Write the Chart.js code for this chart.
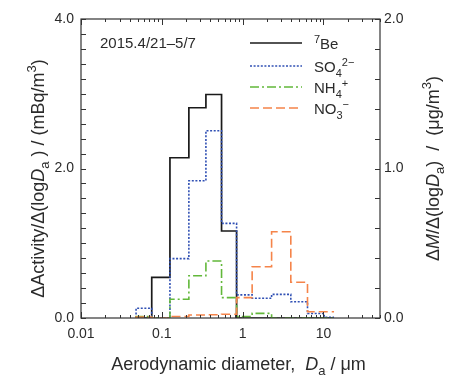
<!DOCTYPE html>
<html>
<head>
<meta charset="utf-8">
<script src="https://cdn.jsdelivr.net/npm/chart.js@4.4.1/dist/chart.umd.min.js"></script>
<style>
  html, body { margin: 0; padding: 0; background: #fff; }
  canvas { display: block; }
</style>
</head>
<body>
<canvas id="c" width="449" height="376"></canvas>
<script>
// Impactor stage boundaries (aerodynamic diameter, µm)
const binEdges = [0.048, 0.075, 0.126, 0.216, 0.351, 0.548, 0.841, 1.31, 2.28, 3.94, 6.34, 10.2, 13.5];
// Size distributions per stage: dX / d(log Da)
const be7 = [0, 0.544, 2.144, 2.813, 2.99, 1.164, 0, 0, 0, 0, 0, 0];                        // mBq/m3
const so4 = [0.065, 0, 0.397, 0.918, 1.253, 0.633, 0.155, 0.132, 0.158, 0.109, 0.03, 0.005]; // µg/m3
const nh4 = [0.009, 0, 0.125, 0.283, 0.381, 0.136, 0.009, 0.031, 0, 0, 0, 0];                // µg/m3
const no3 = [0.007, 0, 0.01, 0.02, 0.022, 0.025, 0.136, 0.343, 0.577, 0.239, 0.042, 0.042];  // µg/m3
// Tick labels
const xTickValues = [0.01, 0.1, 1, 10];
const yLeftTicks = [0, 2, 4];
const yRightTicks = [0, 1, 2];
const periodLabel = '2015.4/21\u20135/7';

const FONT = '"Liberation Sans", Arial, Helvetica, sans-serif';
const TXT = '#2b2b2b';

// Turn stage values into a step outline starting from the baseline
function steps(vals) {
  const pts = [{ x: binEdges[0], y: 0 }];
  vals.forEach((v, i) => pts.push({ x: binEdges[i], y: v }));
  pts.push({ x: binEdges[vals.length], y: vals[vals.length - 1] });
  return pts;
}

// Mixed-style text: segments with italic / subscript / superscript
function segFont(s, size) {
  const sz = (s.sub || s.sup) ? Math.round(size * 0.7) : size;
  return (s.i ? 'italic ' : '') + sz + 'px ' + FONT;
}
function richWidth(ctx, segs, size) {
  let w = 0;
  segs.forEach(s => { ctx.font = segFont(s, size); w += ctx.measureText(s.t).width; });
  return w;
}
function drawRich(ctx, segs, x, y, size, align) {
  let cx = align === 'center' ? x - richWidth(ctx, segs, size) / 2 : x;
  ctx.textBaseline = 'alphabetic';
  ctx.textAlign = 'left';
  segs.forEach(s => {
    ctx.font = segFont(s, size);
    let dy = 0;
    if (s.sub) dy = size * 0.3;
    if (s.sup) dy = -size * 0.42;
    ctx.fillText(s.t, cx, y + dy);
    cx += ctx.measureText(s.t).width;
  });
}

const seriesStyle = [
  { key: 'be7', color: '#1a1a1a', dash: [], width: 1.7, label: [{ t: '7', sup: true }, { t: 'Be' }] },
  { key: 'so4', color: '#3050b4', dash: [2, 1.6], width: 1.6, label: [{ t: 'SO' }, { t: '4', sub: true }, { t: '2\u2212', sup: true }] },
  { key: 'nh4', color: '#62b83a', dash: [9, 3, 2, 3], width: 1.6, label: [{ t: 'NH' }, { t: '4', sub: true }, { t: '+', sup: true }] },
  { key: 'no3', color: '#f5844a', dash: [9, 4], width: 1.6, label: [{ t: 'NO' }, { t: '3', sub: true }, { t: '\u2212', sup: true }] }
];

const overlay = {
  id: 'overlay',
  afterDraw(chart) {
    const ctx = chart.ctx;
    const a = chart.chartArea;
    const sx = chart.scales.x, sy = chart.scales.y, sy2 = chart.scales.y2;
    ctx.save();
    ctx.strokeStyle = '#333';
    ctx.lineWidth = 1.2;
    ctx.setLineDash([]);
    ctx.strokeRect(a.left, a.top, a.right - a.left, a.bottom - a.top);

    // inward tick marks
    ctx.lineWidth = 1;
    ctx.beginPath();
    for (let d = 0.01; d < 100; d *= 10) {
      for (let m = 1; m <= 9; m++) {
        const v = m * d;
        if (v < sx.min * 0.999 || v > sx.max * 1.001) continue;
        const px = Math.round(sx.getPixelForValue(v)) + 0.5;
        const len = m === 1 ? 6 : 3;
        ctx.moveTo(px, a.bottom); ctx.lineTo(px, a.bottom - len);
        ctx.moveTo(px, a.top); ctx.lineTo(px, a.top + len);
      }
    }
    for (let k = 0; k <= 20; k++) {
      const py = Math.round(sy.getPixelForValue(k * 0.2)) + 0.5;
      ctx.moveTo(a.left, py); ctx.lineTo(a.left + 5, py);
    }
    for (let k = 0; k <= 10; k++) {
      const py = Math.round(sy2.getPixelForValue(k * 0.2)) + 0.5;
      ctx.moveTo(a.right, py); ctx.lineTo(a.right - 5, py);
    }
    ctx.stroke();

    ctx.fillStyle = TXT;
    // period label
    ctx.font = '15px ' + FONT;
    ctx.textAlign = 'left';
    ctx.textBaseline = 'middle';
    ctx.fillText(periodLabel, 100, 44);

    // legend
    const rows = [43, 66, 87, 108];
    seriesStyle.forEach((s, i) => {
      ctx.strokeStyle = s.color;
      ctx.lineWidth = s.width;
      ctx.setLineDash(s.dash);
      ctx.beginPath();
      ctx.moveTo(250, rows[i]); ctx.lineTo(302, rows[i]);
      ctx.stroke();
      ctx.setLineDash([]);
      ctx.fillStyle = TXT;
      drawRich(ctx, s.label, 314, rows[i] + 6, 15, 'left');
    });

    // axis titles
    const tsize = 18;
    ctx.fillStyle = TXT;
    drawRich(ctx, [
      { t: 'Aerodynamic diameter,  ' }, { t: 'D', i: true }, { t: 'a', sub: true }, { t: ' / \u03bcm' }
    ], (a.left + a.right) / 2 + 8, 370, tsize, 'center');

    const cy = (a.top + a.bottom) / 2;
    ctx.save();
    ctx.translate(44, cy + 10);
    ctx.rotate(-Math.PI / 2);
    drawRich(ctx, [
      { t: '\u0394Activity/\u0394(log' }, { t: 'D', i: true }, { t: 'a', sub: true },
      { t: ' ) / (mBq/m' }, { t: '3', sup: true }, { t: ')' }
    ], 0, 0, tsize, 'center');
    ctx.restore();

    ctx.save();
    ctx.translate(439, cy);
    ctx.rotate(-Math.PI / 2);
    drawRich(ctx, [
      { t: '\u0394' }, { t: 'M', i: true }, { t: '/\u0394(log' }, { t: 'D', i: true }, { t: 'a', sub: true },
      { t: ')  /  (\u03bcg/m' }, { t: '3', sup: true }, { t: ')' }
    ], 0, 0, tsize, 'center');
    ctx.restore();

    ctx.restore();
  }
};

const dataMap = { be7, so4, nh4, no3 };
const axisMap = { be7: 'y', so4: 'y2', nh4: 'y2', no3: 'y2' };

new Chart(document.getElementById('c'), {
  type: 'line',
  data: {
    datasets: seriesStyle.map((s, i) => ({
      label: s.key,
      data: steps(dataMap[s.key]),
      yAxisID: axisMap[s.key],
      borderColor: s.color,
      borderWidth: s.width,
      borderDash: s.dash,
      stepped: 'before',
      pointRadius: 0,
      fill: false,
      order: 4 - i
    }))
  },
  options: {
    responsive: false,
    animation: false,
    devicePixelRatio: 1,
    layout: { padding: { top: 19, left: 0, right: 0, bottom: 0 } },
    plugins: { legend: { display: false }, tooltip: { enabled: false } },
    scales: {
      x: {
        type: 'logarithmic', position: 'bottom', min: 0.01, max: 50,
        grid: { display: false, drawTicks: false }, border: { display: false },
        afterBuildTicks: s => { s.ticks = xTickValues.map(v => ({ value: v })); },
        afterFit: s => { s.height = 58; },
        ticks: { autoSkip: false, maxRotation: 0, padding: 8, color: TXT,
                 font: { family: FONT, size: 14 }, callback: v => String(v) }
      },
      y: {
        type: 'linear', position: 'left', min: 0, max: 4,
        grid: { display: false, drawTicks: false }, border: { display: false },
        afterBuildTicks: s => { s.ticks = yLeftTicks.map(v => ({ value: v })); },
        afterFit: s => { s.width = 81; },
        ticks: { padding: 7, color: TXT, font: { family: FONT, size: 14 }, callback: v => Number(v).toFixed(1) }
      },
      y2: {
        type: 'linear', position: 'right', min: 0, max: 2,
        grid: { display: false, drawTicks: false }, border: { display: false },
        afterBuildTicks: s => { s.ticks = yRightTicks.map(v => ({ value: v })); },
        afterFit: s => { s.width = 69; },
        ticks: { padding: 4, color: TXT, font: { family: FONT, size: 14 }, callback: v => Number(v).toFixed(1) }
      }
    }
  },
  plugins: [overlay]
});
</script>
</body>
</html>
